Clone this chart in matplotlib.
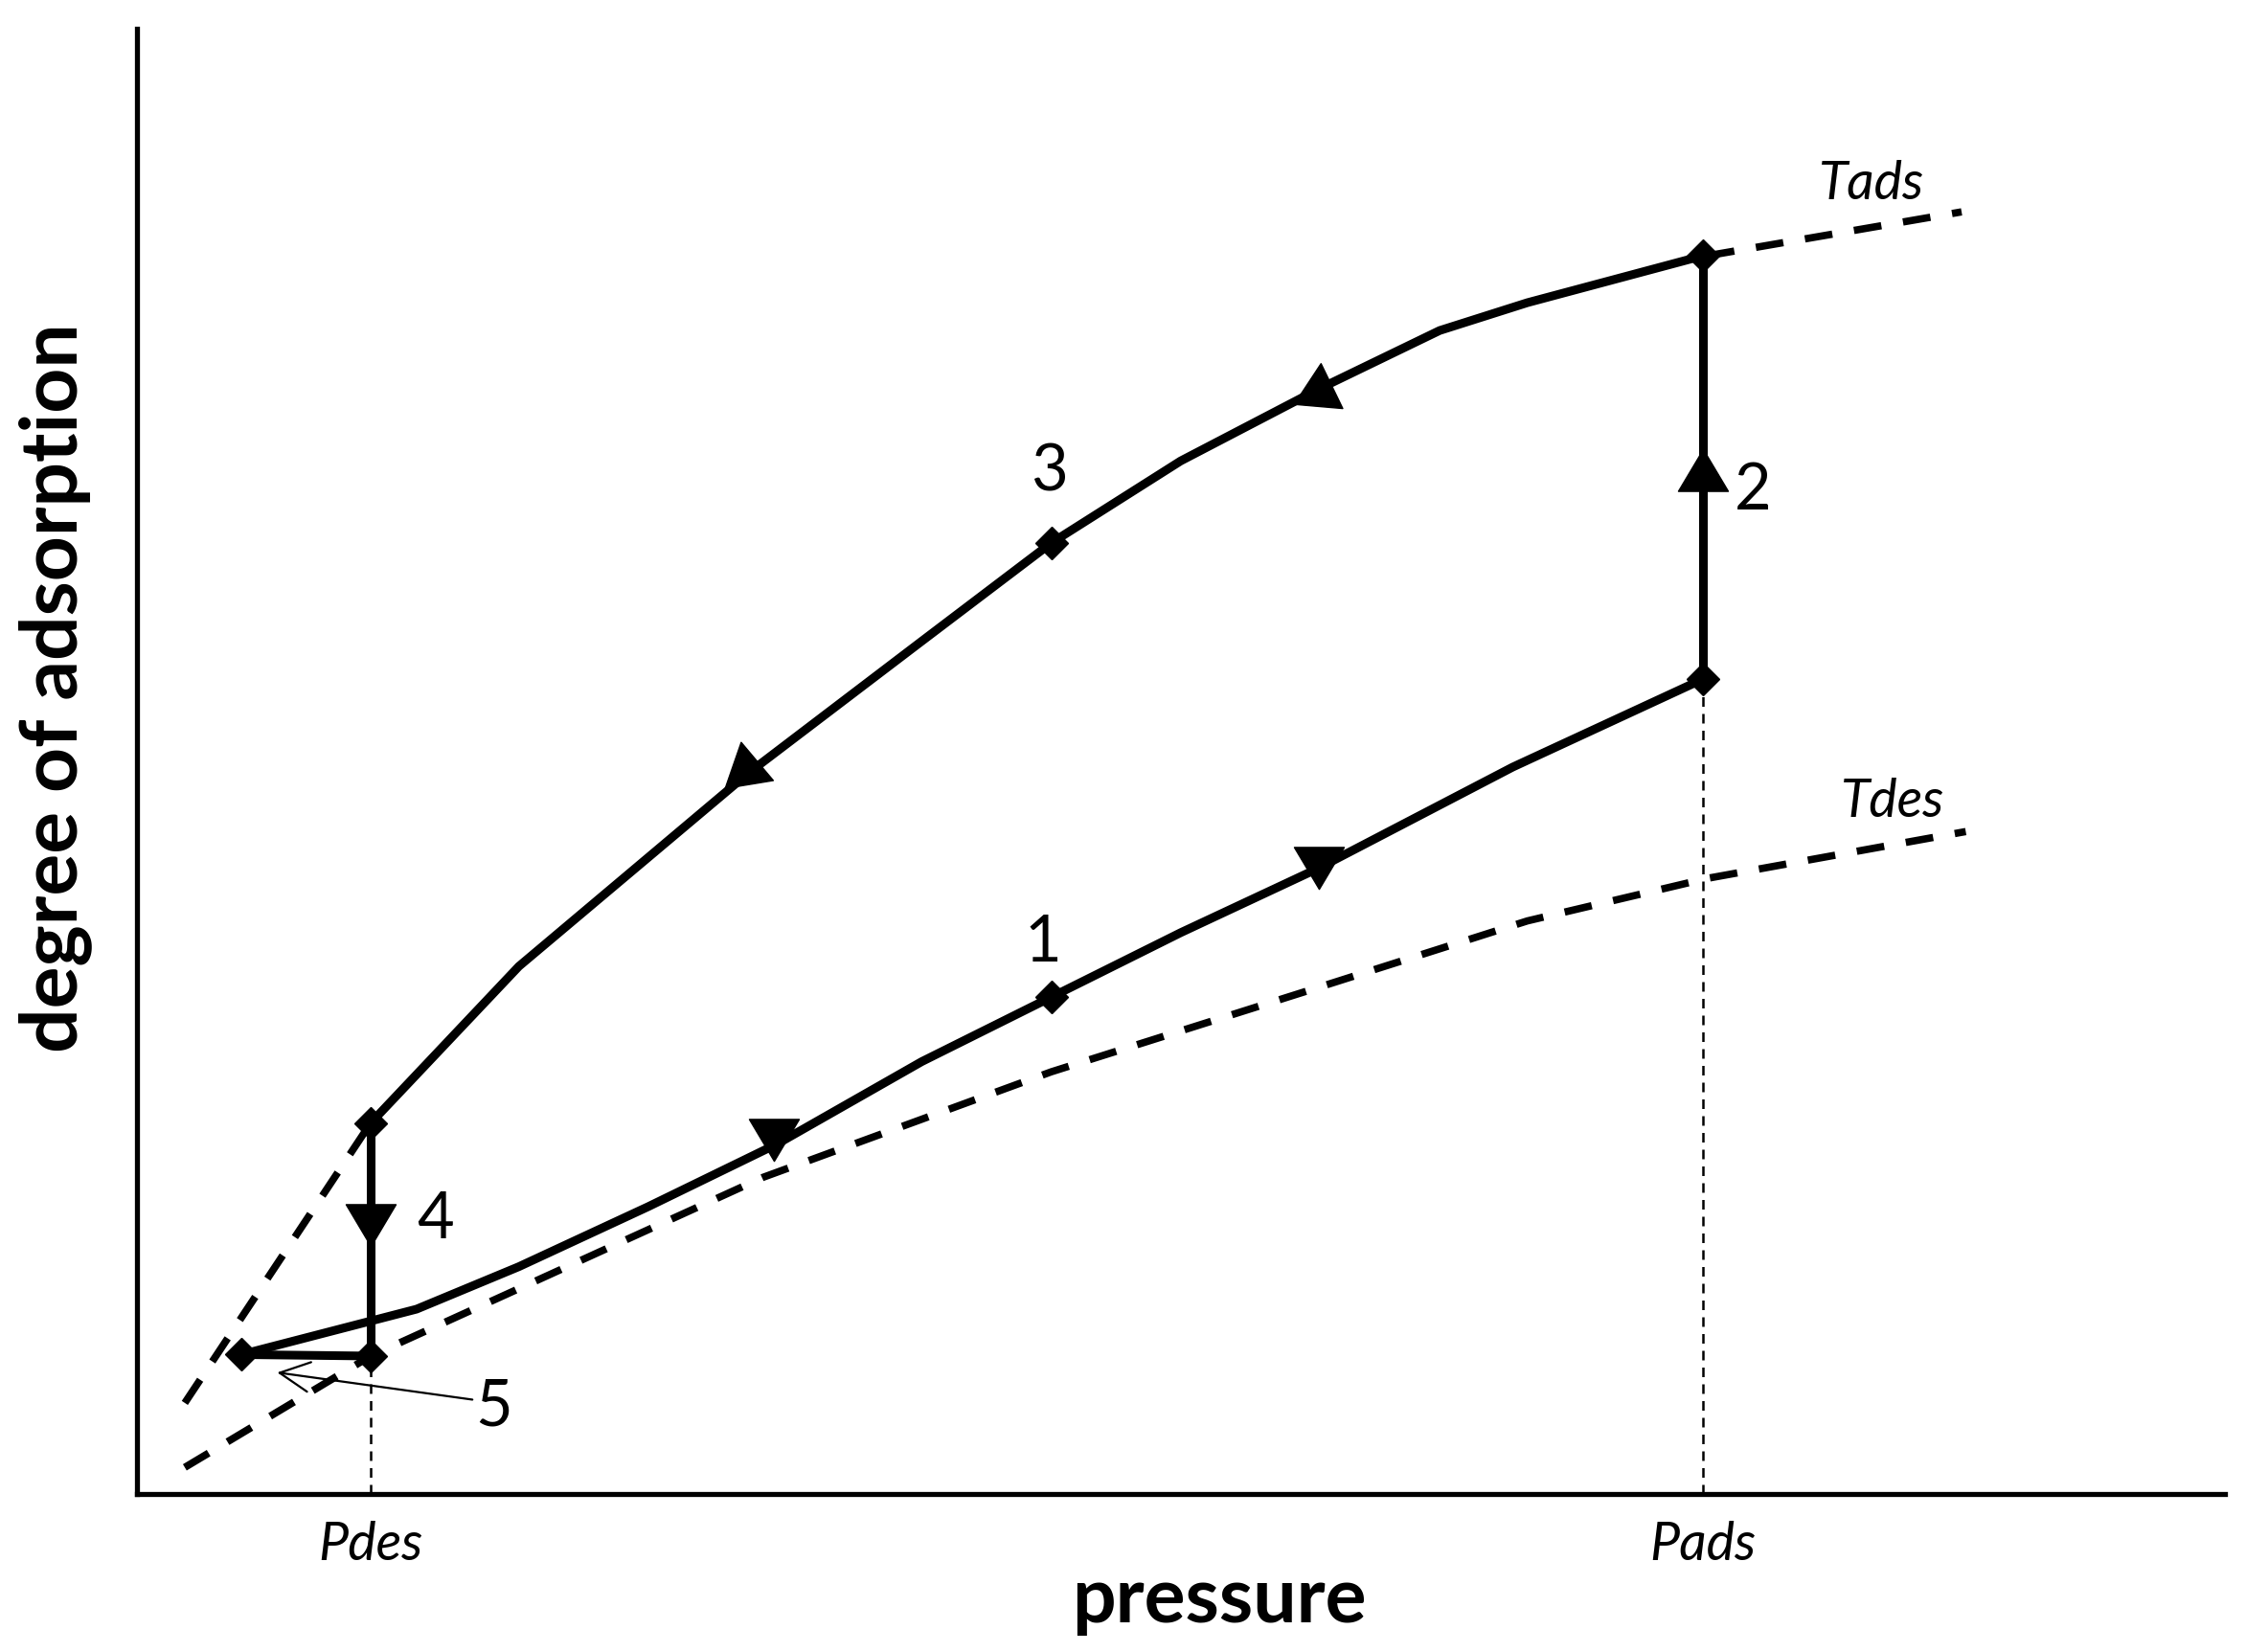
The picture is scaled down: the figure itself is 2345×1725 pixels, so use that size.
import matplotlib
matplotlib.use("Agg")
import matplotlib.pyplot as plt
import numpy as np
from matplotlib.markers import MarkerStyle
from matplotlib.path import Path
from matplotlib.transforms import Affine2D

plt.rcParams["font.family"] = ["Lato", "DejaVu Sans"]

# isotherm at T_ads (dashed): steep low-pressure part and continuation past P_ads
TADS_LOW_X = [2.3, 11.2]
TADS_LOW_Y = [6.2, 25.3]
TADS_HIGH_X = [75.2, 87.4]
TADS_HIGH_Y = [84.5, 87.5]

# isotherm at T_des (dashed)
TDES_X = [2.3, 11.2, 18.3, 30.0, 43.8, 56.9, 66.6, 75.2, 87.6]
TDES_Y = [1.8, 9.4, 14.0, 21.6, 28.8, 34.7, 39.1, 42.0, 45.2]

# cycle steps
STEP1_X = [5.0, 13.4, 18.3, 24.5, 30.7, 37.6, 43.8, 50.0, 56.6, 65.9, 75.0]
STEP1_Y = [9.5, 12.6, 15.5, 19.6, 23.9, 29.5, 33.9, 38.3, 42.7, 49.6, 55.6]
STEP2_X = [75.0, 75.0]
STEP2_Y = [55.6, 84.5]
STEP3_X = [75.0, 66.6, 62.4, 56.6, 50.0, 43.8, 37.6, 29.3, 23.8, 18.3, 11.2]
STEP3_Y = [84.5, 81.3, 79.4, 75.4, 70.5, 64.9, 58.2, 49.2, 42.6, 36.0, 25.3]
STEP4_X = [11.2, 11.2]
STEP4_Y = [25.3, 9.4]
STEP5_X = [11.2, 5.0]
STEP5_Y = [9.4, 9.5]

# diamond points on the cycle
PTS_X = [5.0, 11.2, 11.2, 43.8, 43.8, 75.0, 75.0]
PTS_Y = [9.5, 9.4, 25.3, 64.9, 33.9, 55.6, 84.5]

# arrowheads
ARR1_X, ARR1_Y = [30.5, 56.6], [24.6, 43.2]
ARR2_X, ARR2_Y = [75.0], [69.4]
ARR3_X, ARR3_Y = [56.6, 29.2], [75.2, 49.4]
ARR4_X, ARR4_Y = [11.2], [18.8]

P_DES = 11.2
P_ADS = 75.0

STEP_LABELS = ["1", "2", "3", "4", "5"]
STEP_LABEL_X = [43.4, 77.4, 43.7, 14.3, 17.1]
STEP_LABEL_Y = [37.6, 68.4, 69.7, 18.7, 5.9]


def arrowhead(angle):
    verts = [(28, 0), (-14, 25), (-14, -25), (28, 0)]
    path = Path(verts, [Path.MOVETO, Path.LINETO, Path.LINETO, Path.CLOSEPOLY])
    return MarkerStyle(path, transform=Affine2D().rotate_deg(angle))


def seg_angle(ax, xs, ys, x0):
    # direction of travel (towards smaller x) at x0, in screen space
    p = ax.transData.transform(np.column_stack([xs, ys]))
    for i in range(len(xs) - 1):
        if xs[i] >= x0 >= xs[i + 1]:
            d = p[i + 1] - p[i]
            return np.degrees(np.arctan2(d[1], d[0]))
    return 180.0


fig = plt.figure(figsize=(23.45, 17.25), dpi=100)
ax = fig.add_axes([0.0609, 0.0958, 0.9296, 0.8868])
ax.set_xlim(0, 100)
ax.set_ylim(0, 100)

solid = dict(color="black", lw=6.5, solid_joinstyle="round", solid_capstyle="butt", zorder=3)
dashed = dict(color="black", lw=5.5, dashes=(3.8, 3.0), zorder=2)

ax.plot(TADS_LOW_X, TADS_LOW_Y, **dashed)
ax.plot(TADS_HIGH_X, TADS_HIGH_Y, **dashed)
ax.plot(TDES_X, TDES_Y, **dashed)

ax.vlines([P_DES, P_ADS], 0, [STEP4_Y[1], STEP1_Y[-1]], colors="black",
          lw=1.8, linestyles=(0, (4, 3)), zorder=1)

for xs, ys in [(STEP1_X, STEP1_Y), (STEP2_X, STEP2_Y), (STEP3_X, STEP3_Y),
               (STEP4_X, STEP4_Y), (STEP5_X, STEP5_Y)]:
    ax.plot(xs, ys, **solid)

ax.plot(PTS_X, PTS_Y, ls="none", marker="D", ms=17, color="black", zorder=5)

for x, y in zip(ARR1_X, ARR1_Y):
    ax.plot(x, y, marker=arrowhead(-90), ms=42, color="black", ls="none", zorder=4)
for x, y in zip(ARR2_X, ARR2_Y):
    ax.plot(x, y, marker=arrowhead(90), ms=42, color="black", ls="none", zorder=4)
for x, y in zip(ARR3_X, ARR3_Y):
    a = seg_angle(ax, STEP3_X, STEP3_Y, x)
    ax.plot(x, y, marker=arrowhead(a), ms=42, color="black", ls="none", zorder=4)
for x, y in zip(ARR4_X, ARR4_Y):
    ax.plot(x, y, marker=arrowhead(-90), ms=42, color="black", ls="none", zorder=4)

for s, x, y in zip(STEP_LABELS, STEP_LABEL_X, STEP_LABEL_Y):
    ax.text(x, y, s, fontsize=48, ha="center", va="center")

ax.annotate("", xy=(6.6, 8.3), xytext=(16.2, 6.4),
            arrowprops=dict(arrowstyle="->,head_length=0.7,head_width=0.35",
                            lw=1.6, color="black", mutation_scale=32))

ax.text(83.1, 89.4, "Tads", fontsize=40, style="italic", ha="center", va="center")
ax.text(84.1, 47.2, "Tdes", fontsize=40, style="italic", ha="center", va="center")

ax.set_xticks([P_DES, P_ADS])
ax.set_xticklabels(["Pdes", "Pads"], fontsize=40, style="italic")
ax.set_yticks([])
ax.tick_params(axis="x", length=0, pad=20)

for side in ["top", "right"]:
    ax.spines[side].set_visible(False)
for side in ["left", "bottom"]:
    ax.spines[side].set_linewidth(3.8)

ax.text(0.5185, -0.073, "pressure", transform=ax.transAxes, fontsize=58,
        fontweight="bold", ha="center", va="center")
ax.text(-0.0393, 0.550, "degree of adsorption", transform=ax.transAxes, fontsize=59,
        fontweight="bold", ha="center", va="center", rotation=90)

fig.savefig("out.png", dpi=100)
